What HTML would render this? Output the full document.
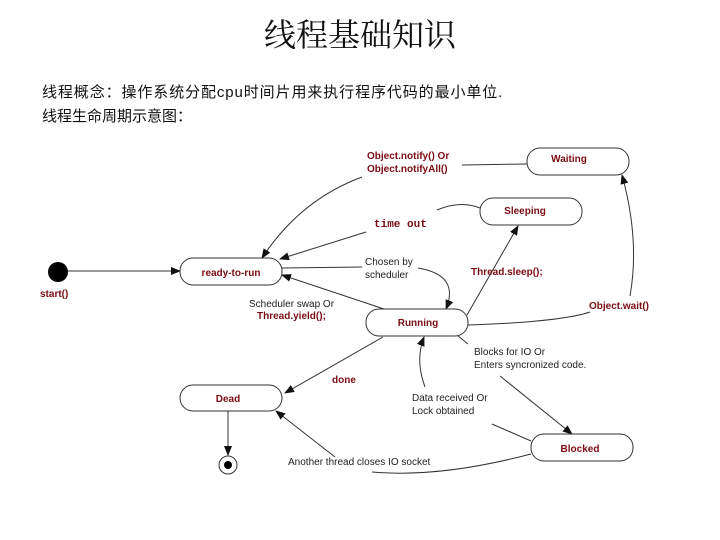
<!DOCTYPE html>
<html><head><meta charset="utf-8"><style>
html,body{margin:0;padding:0;background:#fff;width:720px;height:540px;overflow:hidden}
svg{display:block}
.r{fill:#7a0c12;font-family:"Liberation Sans",sans-serif;font-weight:bold;font-size:10px}
.k{fill:#222;font-family:"Liberation Sans",sans-serif;font-size:10px}
.n{fill:#fff;stroke:#333;stroke-width:1}
.e{fill:none;stroke:#333;stroke-width:1}
</style></head><body>
<svg width="720" height="540" viewBox="0 0 720 540" xmlns="http://www.w3.org/2000/svg">
<defs><marker id="a" markerWidth="10" markerHeight="8" refX="9" refY="4" orient="auto" markerUnits="userSpaceOnUse"><path d="M0,0 L10,4 L0,8 z" fill="#111"/></marker></defs>
<text x="360" y="46" text-anchor="middle" font-family="'Noto Serif CJK SC','Liberation Serif',serif" font-size="32" fill="#111">线程基础知识</text>
<text x="42" y="97" font-family="'Liberation Sans','Noto Sans CJK SC',sans-serif" font-size="15" letter-spacing="0.9" fill="#111">线程概念：操作系统分配cpu时间片用来执行程序代码的最小单位.</text>
<text x="42" y="121" font-family="'Liberation Sans','Noto Sans CJK SC',sans-serif" font-size="15" fill="#111">线程生命周期示意图：</text>

<!-- edges -->
<line class="e" x1="68" y1="271" x2="180" y2="271" marker-end="url(#a)"/>
<path class="e" d="M527,164 L462,165"/>
<path class="e" d="M362,177 Q300,200 262,258" marker-end="url(#a)"/>
<path class="e" d="M480,208 Q460,200 437,210"/>
<path class="e" d="M366,232 L280,259" marker-end="url(#a)"/>
<path class="e" d="M282,268 L362,267"/>
<path class="e" d="M418,268 Q460,275 446,309" marker-end="url(#a)"/>
<path class="e" d="M384,309 L282,275" marker-end="url(#a)"/>
<path class="e" d="M467,315 L518,226" marker-end="url(#a)"/>
<path class="e" d="M468,325 Q560,322 590,312"/>
<path class="e" d="M630,296 Q640,240 622,175" marker-end="url(#a)"/>
<path class="e" d="M383,337 L285,393" marker-end="url(#a)"/>
<path class="e" d="M458,336 L468,344"/>
<path class="e" d="M500,376 L572,434" marker-end="url(#a)"/>
<path class="e" d="M531,441 L492,424"/>
<path class="e" d="M425,387 Q415,360 424,337" marker-end="url(#a)"/>
<path class="e" d="M531,454 Q440,478 372,472"/>
<path class="e" d="M335,457 L276,411" marker-end="url(#a)"/>
<path class="e" d="M228,411 L228,455" marker-end="url(#a)"/>

<!-- nodes -->
<circle cx="58" cy="272" r="10" fill="#000"/>
<rect class="n" x="180" y="258" width="102" height="27" rx="13"/>
<rect class="n" x="527" y="148" width="102" height="27" rx="13"/>
<rect class="n" x="480" y="198" width="102" height="27" rx="13"/>
<rect class="n" x="366" y="309" width="102" height="27" rx="13"/>
<rect class="n" x="180" y="385" width="102" height="26" rx="13"/>
<rect class="n" x="531" y="434" width="102" height="27" rx="13"/>
<circle cx="228" cy="465" r="9" fill="#fff" stroke="#333"/>
<circle cx="228" cy="465" r="4" fill="#000"/>

<text class="r" x="231" y="276" text-anchor="middle">ready-to-run</text>
<text class="r" x="569" y="162" text-anchor="middle">Waiting</text>
<text class="r" x="525" y="214" text-anchor="middle">Sleeping</text>
<text class="r" x="418" y="326" text-anchor="middle">Running</text>
<text class="r" x="228" y="402" text-anchor="middle">Dead</text>
<text class="r" x="580" y="452" text-anchor="middle">Blocked</text>

<text class="r" x="40" y="297">start()</text>
<text class="r" x="367" y="159">Object.notify() Or</text>
<text class="r" x="367" y="172">Object.notifyAll()</text>
<text x="374" y="227" font-family="'Liberation Mono',monospace" font-weight="bold" font-size="11" fill="#7a0c12">time out</text>
<text class="k" x="365" y="265">Chosen by</text>
<text class="k" x="365" y="278">scheduler</text>
<text class="r" x="471" y="275">Thread.sleep();</text>
<text class="k" x="249" y="307">Scheduler swap Or</text>
<text class="r" x="257" y="319">Thread.yield();</text>
<text class="r" x="589" y="309">Object.wait()</text>
<text class="k" x="474" y="355">Blocks for IO Or</text>
<text class="k" x="474" y="368">Enters syncronized code.</text>
<text class="r" x="332" y="383">done</text>
<text class="k" x="412" y="401">Data received Or</text>
<text class="k" x="412" y="414">Lock obtained</text>
<text class="k" x="288" y="465">Another thread closes IO socket</text>
</svg>
</body></html>
